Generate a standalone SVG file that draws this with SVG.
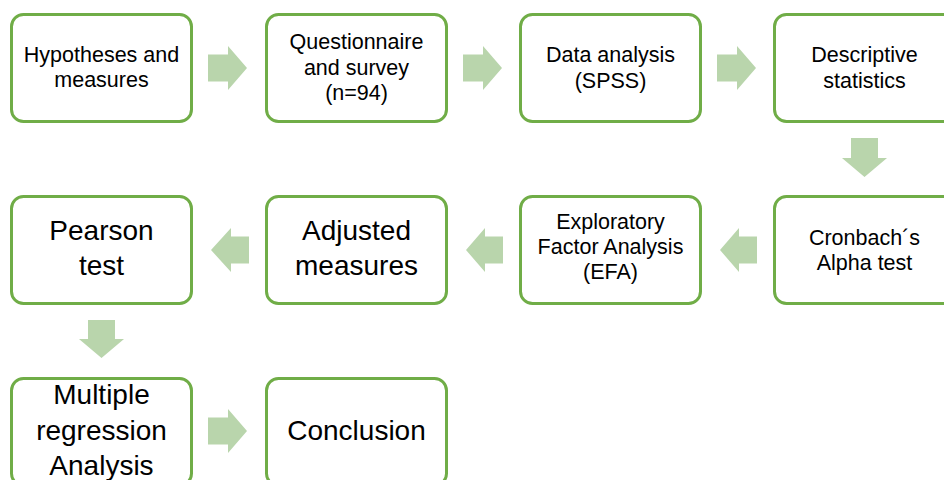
<svg xmlns="http://www.w3.org/2000/svg" width="944" height="480" viewBox="0 0 944 480">
<style>
.box{fill:#ffffff;stroke:#70AD47;stroke-width:3}
.arr{fill:#B9D5AC}
.t{font-family:"Liberation Sans",Arial,sans-serif;font-size:21.5px;fill:#000;text-anchor:middle}
.tl{font-family:"Liberation Sans",Arial,sans-serif;font-size:28px;fill:#000;text-anchor:middle}
</style>
<rect width="944" height="480" fill="#ffffff"/>
<g id="connectors">
<polygon class="arr" points="208,54.5 228,54.5 228,46 247,68 228,90 228,81.5 208,81.5"/>
<polygon class="arr" points="463,54.5 483,54.5 483,46 502,68 483,90 483,81.5 463,81.5"/>
<polygon class="arr" points="717,54.5 737,54.5 737,46 756,68 737,90 737,81.5 717,81.5"/>
<polygon class="arr" points="851,138 878,138 878,158 887,158 864.5,177 842,158 851,158"/>
<polygon class="arr" points="757,236.5 739,236.5 739,228 720,250 739,272 739,263.5 757,263.5"/>
<polygon class="arr" points="503,236.5 485,236.5 485,228 466,250 485,272 485,263.5 503,263.5"/>
<polygon class="arr" points="249,236.5 231,236.5 231,228 211,250 231,272 231,263.5 249,263.5"/>
<polygon class="arr" points="88,320 115,320 115,339 124,339 101.5,358 79,339 88,339"/>
<polygon class="arr" points="208,417.5 228,417.5 228,409 247,431 228,453 228,444.5 208,444.5"/>
</g>
<g id="n1"><rect class="box" x="11.5" y="14.5" width="180" height="107" rx="12"/>
<text class="t" x="101.5" y="62">Hypotheses and</text><text class="t" x="101.5" y="87">measures</text></g>
<g id="n2"><rect class="box" x="266.5" y="14.5" width="180" height="107" rx="12"/>
<text class="t" x="356.5" y="49">Questionnaire</text><text class="t" x="356.5" y="75">and survey</text><text class="t" x="356.5" y="100">(n=94)</text></g>
<g id="n3"><rect class="box" x="520.5" y="14.5" width="180" height="107" rx="12"/>
<text class="t" x="610.5" y="62">Data analysis</text><text class="t" x="610.5" y="88">(SPSS)</text></g>
<g id="n4"><rect class="box" x="774.5" y="14.5" width="180" height="107" rx="12"/>
<text class="t" x="864.5" y="62">Descriptive</text><text class="t" x="864.5" y="88">statistics</text></g>
<g id="n5"><rect class="box" x="774.5" y="196.5" width="180" height="107" rx="12"/>
<text class="t" x="864.5" y="245">Cronbach´s</text><text class="t" x="864.5" y="270">Alpha test</text></g>
<g id="n6"><rect class="box" x="520.5" y="196.5" width="180" height="107" rx="12"/>
<text class="t" x="610.5" y="229">Exploratory</text><text class="t" x="610.5" y="254">Factor Analysis</text><text class="t" x="610.5" y="279">(EFA)</text></g>
<g id="n7"><rect class="box" x="266.5" y="196.5" width="180" height="107" rx="12"/>
<text class="tl" x="356.5" y="240">Adjusted</text><text class="tl" x="356.5" y="275">measures</text></g>
<g id="n8"><rect class="box" x="11.5" y="196.5" width="180" height="107" rx="12"/>
<text class="tl" x="101.5" y="240">Pearson</text><text class="tl" x="101.5" y="275">test</text></g>
<g id="n9"><rect class="box" x="11.5" y="378.5" width="180" height="107" rx="12"/>
<text class="tl" x="101.5" y="404">Multiple</text><text class="tl" x="101.5" y="440">regression</text><text class="tl" x="101.5" y="475">Analysis</text></g>
<g id="n10"><rect class="box" x="266.5" y="378.5" width="180" height="107" rx="12"/>
<text class="tl" x="356.5" y="440">Conclusion</text></g>
</svg>
